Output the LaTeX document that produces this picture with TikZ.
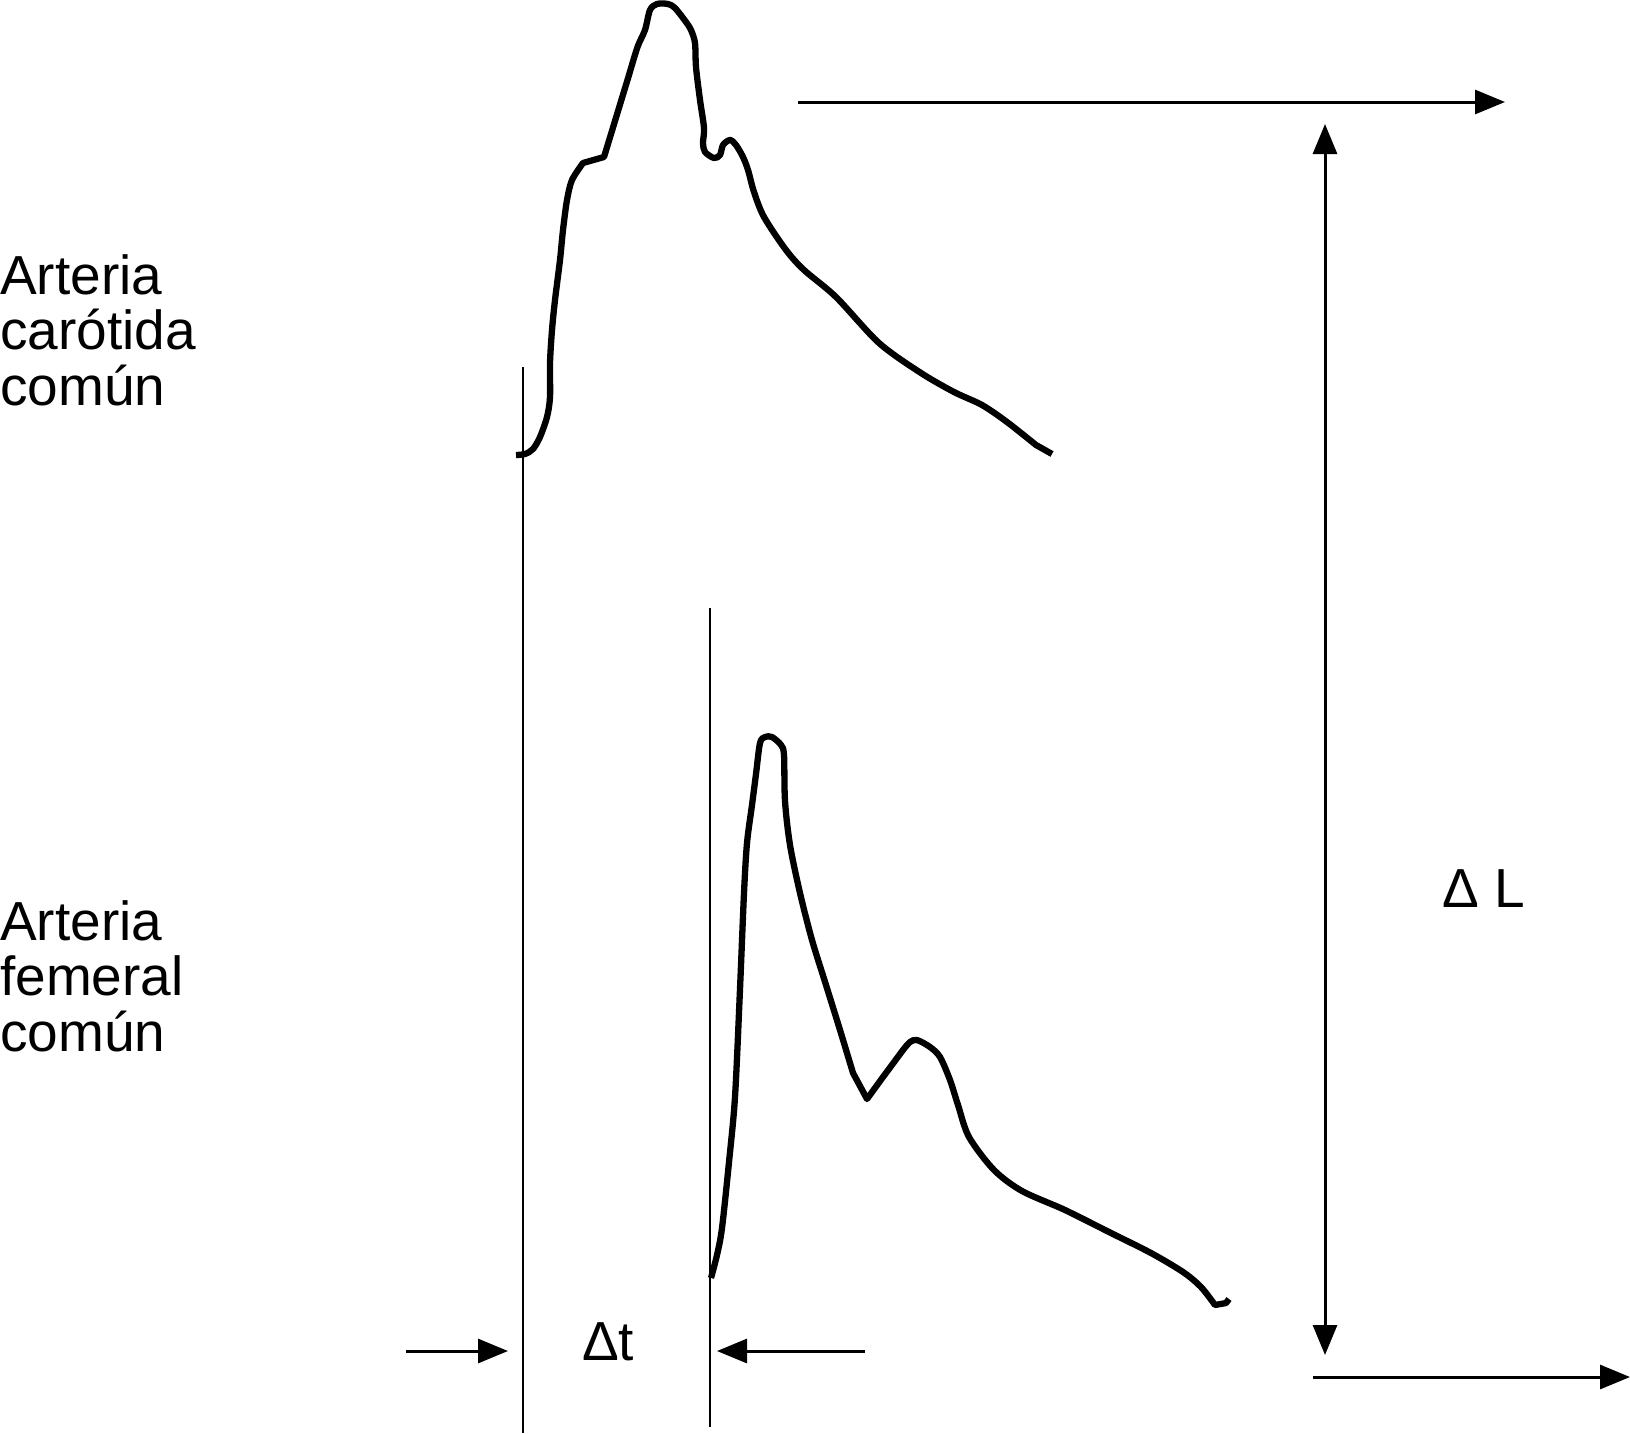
\documentclass[tikz,border=0pt]{standalone}
\usepackage{fontspec}
\setmainfont{Liberation Sans}
\usetikzlibrary{arrows.meta}
\tikzset{
  lbl/.style={inner sep=0pt, anchor=base west, font=\fontsize{55}{56}\selectfont},
  wave/.style={line width=6.3pt, line join=round},
  thinline/.style={line width=2.8pt},
  arr/.style={line width=3pt, -{Triangle[length=30pt,width=24pt]}},
  darr/.style={line width=3pt, {Triangle[length=30pt,width=24pt]}-{Triangle[length=30pt,width=24pt]}}
}
\begin{document}
\begin{tikzpicture}[x=1pt,y=-1pt]
\useasboundingbox (0,0) rectangle (1630,1433);

% labels
\node[lbl] (a1) at (0,294) {Arteria};
\node[lbl] (a2) at (0,349) {carótida};
\node[lbl] (a3) at (0,405) {común};
\node[lbl] (b1) at (0,940) {Arteria};
\node[lbl] (b2) at (0,995) {femeral};
\node[lbl] (b3) at (0,1051) {común};
\node[lbl] (dt) at (582,1360) {Δt};
\node[lbl] (dL) at (1442,907) {Δ L};

% vertical reference lines
\coordinate (v1t) at (523,367);
\coordinate (v1b) at (523,1433);
\coordinate (v2t) at (710,608);
\coordinate (v2b) at (710,1427);
\draw[thinline] (v1t) -- (v1b);
\draw[thinline] (v2t) -- (v2b);

% carotid wave
\draw[wave] plot[smooth, tension=0.5] coordinates {
  (516,455) (525,454) (533,449) (540,437) (547,417) (550,397) (550,363)
  (552,330) (555,300) (560,260) (563,230) (567,200) (572,180) (583,163)}
  -- (604,157) -- (629,75)
  -- plot[smooth, tension=0.5] coordinates {
  (629,75) (637.5,47) (645,30) (650,10) (657,4) (668,4) (675,8) (686,22)
  (691,30) (695,43) (696,67) (700,100) (704,128) (703,143) (705,152)
  (714,158) (720,155) (723,145) (730,140) (736,145) (743,157) (748,170)
  (754,192) (764,217) (786,250) (804,270) (836,297) (879,343) (921,373)
  (954,392) (982,405) (1007,422) (1036,445)}
  -- (1052,454);

% femoral wave
\draw[wave] plot[smooth, tension=0.5] coordinates {
  (711,1278) (717,1255) (722,1228) (729,1162) (735,1097) (740,989)
  (744,893) (747,843) (752,805) (756,774) (760,743) (765,737) (772,737)
  (781,745) (784,755) (785,801) (790,845) (800,893) (812,940)
  (826,985) (840,1030) (853,1073)}
  -- (867,1099) -- (883,1077) -- (903,1050)
  -- plot[smooth, tension=0.5] coordinates {
  (903,1050) (910,1042) (917,1040) (930,1047) (940,1057) (950,1080)
  (958,1105) (969,1137) (994,1170) (1022,1191) (1065,1210) (1111,1233)
  (1151,1253) (1183,1272) (1201,1287) (1215,1305)}
  -- (1226,1303) -- (1229,1299);

% arrows
\coordinate (ta0) at (798,102);
\coordinate (ta1) at (1505,102);
\draw[arr] (ta0) -- (ta1);
\coordinate (ba0) at (1313,1377);
\coordinate (ba1) at (1630,1377);
\draw[arr] (ba0) -- (ba1);
\coordinate (vL0) at (1325,124);
\coordinate (vL1) at (1325,1355);
\draw[darr] (vL0) -- (vL1);
\coordinate (la0) at (406,1351);
\coordinate (la1) at (508,1351);
\draw[arr] (la0) -- (la1);
\coordinate (ra0) at (865,1351);
\coordinate (ra1) at (717,1351);
\draw[arr] (ra0) -- (ra1);
\end{tikzpicture}
\end{document}
